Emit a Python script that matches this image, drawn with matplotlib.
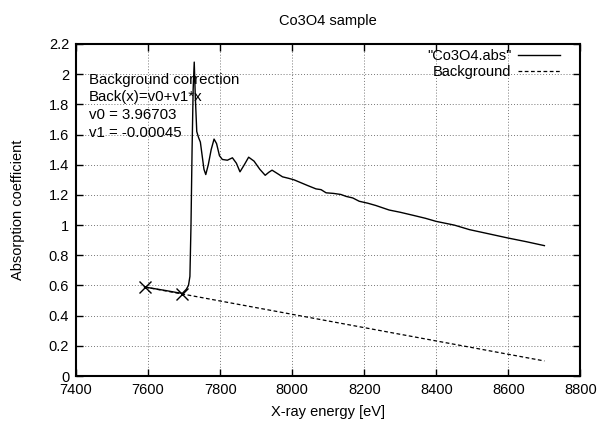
import matplotlib
matplotlib.use("Agg")
import matplotlib.pyplot as plt
import numpy as np

plt.rcParams['font.family'] = ['Liberation Sans', 'DejaVu Sans']

# spectrum
energy = [7590, 7620, 7650, 7680, 7695, 7706, 7712, 7716, 7719, 7722, 7725, 7728,
          7731, 7735, 7740, 7745, 7750, 7755, 7760, 7767, 7775, 7783, 7790, 7798,
          7806, 7820, 7834, 7845, 7855, 7867, 7879, 7894, 7910, 7925, 7935, 7944,
          7960, 7973, 7990, 8005, 8025, 8043, 8066, 8080, 8094, 8115, 8135, 8150,
          8168, 8186, 8210, 8232, 8269, 8300, 8339, 8370, 8399, 8450, 8492, 8550,
          8598, 8650, 8700]
absorb = [0.59, 0.578, 0.566, 0.553, 0.548, 0.575, 0.60, 0.66, 1.0, 1.5, 1.9, 2.08,
          1.85, 1.62, 1.58, 1.55, 1.46, 1.37, 1.335, 1.40, 1.50, 1.57, 1.54, 1.46,
          1.435, 1.43, 1.446, 1.41, 1.353, 1.40, 1.45, 1.424, 1.37, 1.33, 1.35, 1.364,
          1.34, 1.32, 1.31, 1.30, 1.28, 1.262, 1.24, 1.235, 1.214, 1.21, 1.203, 1.19,
          1.18, 1.158, 1.145, 1.13, 1.10, 1.085, 1.063, 1.045, 1.025, 1.00, 0.97, 0.94,
          0.915, 0.89, 0.864]

# background line end points and the two fit markers
bg_x = [7590, 8700]
bg_y = [0.59, 0.10]
mark_x = [7590, 7695]
mark_y = [0.59, 0.544]

notes = ["Background correction", "Back(x)=v0+v1*x", "v0 = 3.96703", "v1 = -0.00045"]

fig = plt.figure(figsize=(5.99, 4.23), dpi=100)
ax = fig.add_axes([0.127, 0.111, 0.842, 0.785])

ax.plot(energy, absorb, color='black', lw=1.0, label='"Co3O4.abs"')
ax.plot(bg_x, bg_y, color='black', lw=0.9, ls=(0, (3, 2)), label='Background')
ax.plot(mark_x, mark_y, ls='none', marker='x', ms=8, mew=1.0, color='black')

ax.set_xlim(7400, 8800)
ax.set_ylim(0, 2.2)
ax.set_xticks(np.arange(7400, 8801, 200))
ax.set_yticks(np.arange(0, 2.21, 0.2))
ax.set_yticklabels(['0', '0.2', '0.4', '0.6', '0.8', '1', '1.2', '1.4', '1.6', '1.8', '2', '2.2'])
ax.tick_params(direction='in', length=5, width=1, top=True, right=True, labelsize=10.5, pad=5)
ax.grid(True, color='#777777', ls=(0, (1, 2)), lw=0.7)
for s in ax.spines.values():
    s.set_linewidth(1.5)

ax.set_title('Co3O4 sample', fontsize=10.5, pad=14)
ax.set_xlabel('X-ray energy [eV]', fontsize=10.5, labelpad=6)
ax.set_ylabel('Absorption coefficient', fontsize=10.5, labelpad=17)

for i, t in enumerate(notes):
    ax.text(0.025, 0.893 - i * 0.0535, t, transform=ax.transAxes, fontsize=10.8, va='center', ha='left')

leg = ax.legend(loc='upper right', frameon=False, fontsize=10.5, markerfirst=False,
                handlelength=2.9, borderaxespad=0.05, borderpad=0.3, labelspacing=0.15,
                handletextpad=0.45, bbox_to_anchor=(0.97, 1.0))
for t in leg.get_texts():
    t.set_ha('right')

fig.savefig('out.png', dpi=100)
